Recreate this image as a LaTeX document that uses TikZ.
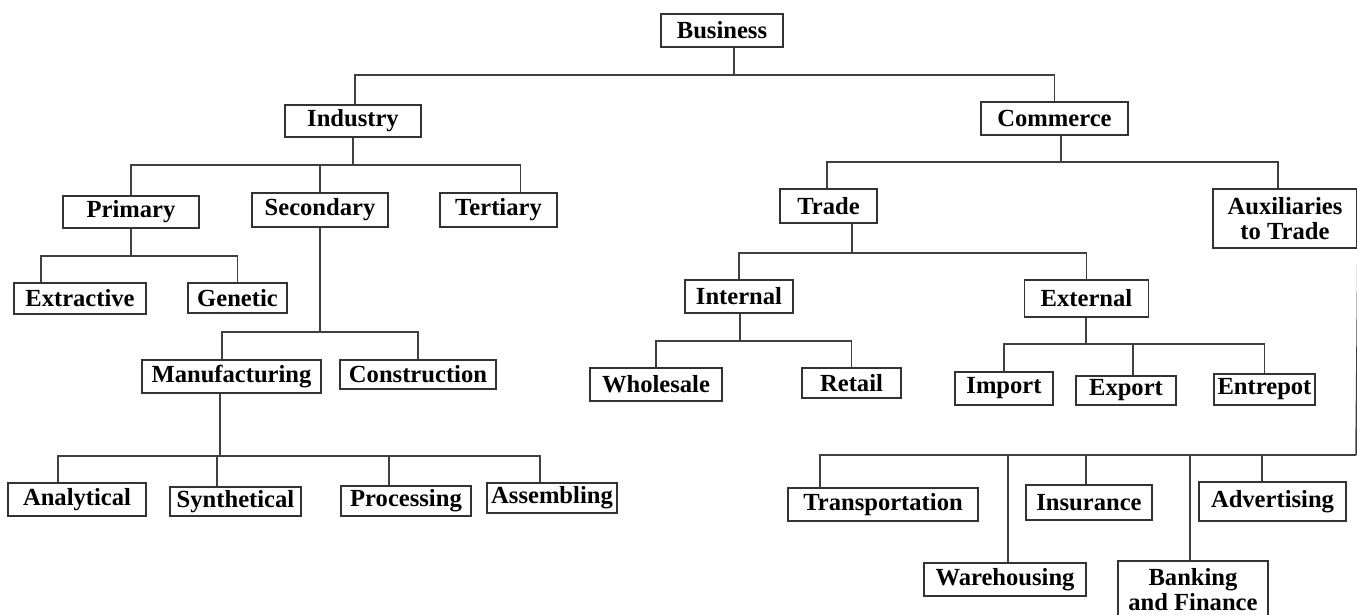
\documentclass[tikz,border=0pt]{standalone}
\usepackage{fontspec}
\setmainfont{Liberation Serif}
\usetikzlibrary{positioning, calc}
\tikzset{
  box/.style 2 args={draw=black!80, line width=1pt, inner sep=0pt, align=center,
    font=\fontsize{14}{14.5}\selectfont\bfseries,
    minimum width=#1*0.02cm, minimum height=#2*0.02cm},
  link/.style={draw=black!75, line width=0.85pt}
}
\def\upx{0.02cm}

\begin{document}
\begin{tikzpicture}[x=0.02cm, y=-0.02cm]
  \useasboundingbox (0,0) rectangle (1357,615);

  % Top
  \node[box={122}{33}] (business) at (722,30.5) {Business};
  \node[box={136}{32}] (industry) at (353,121) {Industry};
  \node[box={147}{33}] (commerce) at (1054.5,118.5) {Commerce};

  % Industry side
  \node[box={136}{32}] (primary) at (131,212) {Primary};
  \node[box={136}{34}] (secondary) at (320,210) {Secondary};
  \node[box={117}{34}] (tertiary) at (498.5,210) {Tertiary};
  \node[box={132}{31}] (extractive) at (80,298.5) {Extractive};
  \node[box={99}{30}] (genetic) at (237.5,298) {Genetic};
  \node[box={179}{33}] (manufacturing) at (231.5,376.5) {Manufacturing};
  \node[box={156}{29}] (construction) at (418,374.5) {Construction};
  \node[box={138}{33}] (analytical) at (77,499.5) {Analytical};
  \node[box={131}{29}] (synthetical) at (235.5,501.5) {Synthetical};
  \node[box={130}{30}] (processing) at (406,501) {Processing};
  \node[box={130}{30}] (assembling) at (552,498) {Assembling};

  % Commerce side
  \node[box={97}{34}] (trade) at (828.5,206) {Trade};
  \node[box={144}{59}] (auxiliaries) at (1285,218.5) {Auxiliaries\\to Trade};
  \node[box={108}{33}] (internal) at (739,296.5) {Internal};
  \node[box={124}{37}] (external) at (1086.5,298.5) {External};
  \node[box={132}{33}] (wholesale) at (656,384.5) {Wholesale};
  \node[box={99}{30}] (retail) at (851.5,383) {Retail};
  \node[box={98}{33}] (import) at (1004,388.5) {Import};
  \node[box={100}{29}] (export) at (1126,390.5) {Export};
  \node[box={101}{31}] (entrepot) at (1264.5,389.5) {Entrepot};
  \node[box={190}{33}] (transportation) at (883,504.5) {Transportation};
  \node[box={162}{33}] (warehousing) at (1005,579.5) {Warehousing};
  \node[box={126}{35}] (insurance) at (1089,502.5) {Insurance};
  \node[box={150}{57}] (banking) at (1193,589.5) {Banking\\and Finance};
  \node[box={147}{39}] (advertising) at (1272.5,501.5) {Advertising};

  % Bus points
  \coordinate (busB) at (734,75);
  \coordinate (busI) at (353,165);
  \coordinate (busP) at (131,256);
  \coordinate (busS) at (320,332);
  \coordinate (busM) at (220,456);
  \coordinate (busC) at (1061,162);
  \coordinate (busT) at (852,253);
  \coordinate (busN) at (740,341);
  \coordinate (busE) at (1086,344);
  \coordinate (busA) at (1356,455);

  % Connectors: business
  \draw[link] (business.south -| busB) -- (busB);
  \draw[link] (busB) -| ([xshift=2*\upx]industry.north);
  \draw[link] (busB) -| (commerce.north);

  % Connectors: industry
  \draw[link] (industry.south) -- (busI);
  \draw[link] (busI) -| (primary.north);
  \draw[link] (busI) -| (secondary.north);
  \draw[link] (busI) -| ([xshift=22*\upx]tertiary.north);
  \draw[link] (primary.south) -- (busP);
  \draw[link] (busP) -| ([xshift=-39*\upx]extractive.north);
  \draw[link] (busP) -| (genetic.north);
  \draw[link] (secondary.south) -- (busS);
  \draw[link] (busS) -| ([xshift=-9.5*\upx]manufacturing.north);
  \draw[link] (busS) -| (construction.north);
  \draw[link] (manufacturing.south -| busM) -- (busM);
  \draw[link] (busM) -| ([xshift=-19*\upx]analytical.north);
  \draw[link] (busM) -| ([xshift=-18.5*\upx]synthetical.north);
  \draw[link] (busM) -| ([xshift=-17*\upx]processing.north);
  \draw[link] (busM) -| ([xshift=-12*\upx]assembling.north);

  % Connectors: commerce
  \draw[link] (commerce.south -| busC) -- (busC);
  \draw[link] (busC) -| ([xshift=-1.5*\upx]trade.north);
  \draw[link] (busC) -| ([xshift=-7*\upx]auxiliaries.north);
  \draw[link] (trade.south -| busT) -- (busT);
  \draw[link] (busT) -| (internal.north);
  \draw[link] (busT) -| (external.north);
  \draw[link] (internal.south -| busN) -- (busN);
  \draw[link] (busN) -| (wholesale.north);
  \draw[link] (busN) -| (retail.north);
  \draw[link] (external.south -| busE) -- (busE);
  \draw[link] (busE) -| (import.north);
  \draw[link] (busE) -| ([xshift=7*\upx]export.north);
  \draw[link] (busE) -| (entrepot.north);
  \draw[link] (auxiliaries.south east) -- (busA);
  \draw[link] (busA) -| ([xshift=-63*\upx]transportation.north);
  \draw[link] (busA) -| ([xshift=3*\upx]warehousing.north);
  \draw[link] (busA) -| ([xshift=-3*\upx]insurance.north);
  \draw[link] (busA) -| ([xshift=-3*\upx]banking.north);
  \draw[link] (busA) -| ([xshift=-10.5*\upx]advertising.north);
\end{tikzpicture}
\end{document}
